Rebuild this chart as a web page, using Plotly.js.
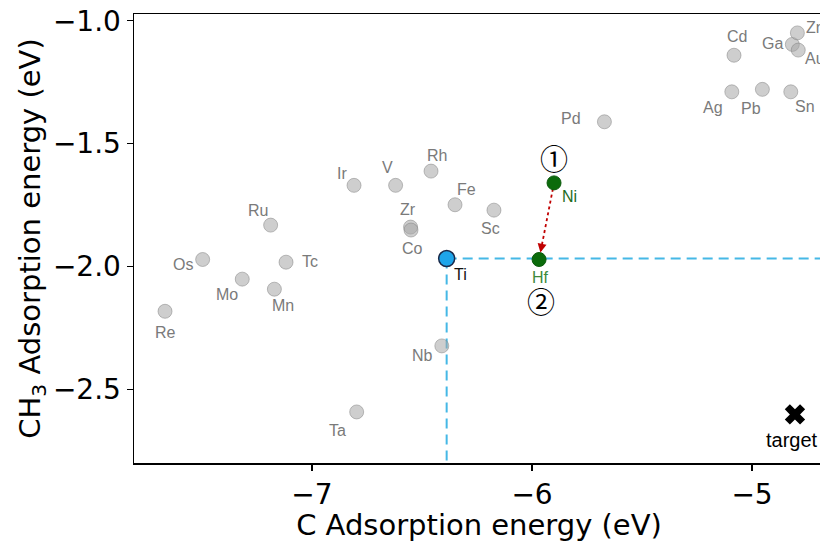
<!DOCTYPE html>
<html>
<head>
<meta charset="utf-8">
<script src="https://cdn.plot.ly/plotly-3.0.1.min.js"></script>
<style>
html,body{margin:0;padding:0;overflow:hidden;background:#fff;}
#chart{width:860px;height:542px;}
</style>
</head>
<body>
<div id="chart"></div>
<script>
// Gray (other) metals
const metals = ["Re","Os","Mo","Mn","Tc","Ru","Ir","V","Rh","Fe","Zr","Co","Sc","Nb","Ta","Pd","Cd","Ag","Pb","Sn","Ga","Zn","Au"];
const cAds  = [-7.668,-7.497,-7.317,-7.171,-7.118,-7.188,-6.809,-6.620,-6.459,-6.350,-6.552,-6.550,-6.173,-6.410,-6.797,-5.671,-5.082,-5.092,-4.953,-4.824,-4.817,-4.794,-4.790];
const ch3Ads= [-2.183,-1.972,-2.052,-2.093,-1.983,-1.832,-1.670,-1.670,-1.612,-1.749,-1.840,-1.852,-1.771,-2.324,-2.593,-1.411,-1.140,-1.289,-1.279,-1.289,-1.096,-1.049,-1.119];

// Highlighted
const startName = "Ni", startC = -5.900, startCH3 = -1.660;
const endName = "Hf", endC = -5.968, endCH3 = -1.972;
const refName = "Ti", refC = -6.388, refCH3 = -1.968;
const targetName = "target", targetC = -4.805, targetCH3 = -2.603;

const xRange = [-7.809, -4.673];
const yRange = [-2.801, -0.972];

// label offsets in pixels [dx, dy(up positive)]
const off = {
  Re:[0,-21], Os:[-20,-5], Mo:[-15,-15], Mn:[9,-16], Tc:[24,1], Ru:[-13,15], Ir:[-12,12],
  V:[-8,18], Rh:[6,16], Fe:[11,15], Zr:[-3,18], Co:[1,-18], Sc:[-3,-18], Nb:[-19,-10],
  Ta:[-19,-19], Pd:[-33,3], Cd:[3,19], Ag:[-19,-16], Pb:[-11,-19], Sn:[14,-15],
  Ga:[-20,1], Zn:[18,5], Au:[17,-8]
};

const lblFamily = "Liberation Sans, Arial, sans-serif";
const grayFont = {family:lblFamily, size:16, color:"#7a7a7a"};
const annotations = [];
metals.forEach((m,i)=>{
  annotations.push({x:cAds[i], y:ch3Ads[i], xref:'x', yref:'y', text:m, showarrow:false,
    xshift:off[m][0], yshift:off[m][1], font:grayFont});
});
annotations.push({x:startC,y:startCH3,text:startName,showarrow:false,xshift:15,yshift:-14,
  font:{family:lblFamily,size:16,color:"#1f6b1f"}});
annotations.push({x:endC,y:endCH3,text:endName,showarrow:false,xshift:1,yshift:-18,
  font:{family:lblFamily,size:16,color:"#3c8a3c"}});
annotations.push({x:refC,y:refCH3,text:refName,showarrow:false,xshift:14,yshift:-16,
  font:{family:lblFamily,size:16,color:"#111"}});
annotations.push({x:targetC,y:targetCH3,text:targetName,showarrow:false,xshift:-3,yshift:-26,
  font:{family:lblFamily,size:20,color:"#000"}});
// circled step numbers
annotations.push({x:startC,y:startCH3,text:"①",showarrow:false,yshift:25,
  font:{family:"Noto Sans CJK JP, DejaVu Sans",size:28,color:"#000"}});
annotations.push({x:endC,y:endCH3,text:"②",showarrow:false,yshift:-42,xshift:2,
  font:{family:"Noto Sans CJK JP, DejaVu Sans",size:28,color:"#000"}});
// arrow head toward Hf
annotations.push({x:endC,y:endCH3,xref:'x',yref:'y',ax:2.5,ay:-13,axref:'pixel',ayref:'pixel',
  showarrow:true,arrowhead:2,arrowsize:1.2,arrowwidth:1.5,arrowcolor:"#c00000",standoff:7,text:""});

const traces = [
  {x:[refC,refC], y:[refCH3,yRange[0]], mode:'lines', line:{color:'#45b8e6',width:2,dash:'10px,6px'}, hoverinfo:'skip'},
  {x:[refC,xRange[1]], y:[refCH3,refCH3], mode:'lines', line:{color:'#45b8e6',width:2,dash:'10px,6px'}, hoverinfo:'skip'},
  {x:[startC,endC], y:[startCH3,endCH3], mode:'lines', line:{color:'#c00000',width:1.8,dash:'dot'}, hoverinfo:'skip'},
  {x:cAds, y:ch3Ads, mode:'markers', text:metals,
    marker:{size:14,color:'rgba(165,165,165,0.55)',line:{color:'rgba(130,130,130,0.5)',width:1}}},
  {x:[startC,endC], y:[startCH3,endCH3], mode:'markers', text:[startName,endName],
    marker:{size:14,color:'#0b6b0b',line:{color:'#0b5a0b',width:1}}},
  {x:[refC], y:[refCH3], mode:'markers', text:[refName],
    marker:{size:16,color:'#1ea5ea',line:{color:'#1b2a4a',width:1.5}}},
  {x:[targetC], y:[targetCH3], mode:'markers', text:[targetName],
    marker:{size:18,symbol:'x',color:'#000',line:{width:0}}}
];

const tickFont = {family:"DejaVu Sans, sans-serif", size:28, color:"#000"};
const titleFont = {family:"DejaVu Sans, sans-serif", size:29, color:"#000"};
const layout = {
  width:860, height:542,
  margin:{l:134, r:36, t:14, b:79},
  paper_bgcolor:'#fff', plot_bgcolor:'#fff',
  showlegend:false,
  xaxis:{range:xRange, dtick:1, tick0:-7, showgrid:false, zeroline:false,
    showline:true, mirror:true, linecolor:'#000', linewidth:1.5,
    ticks:'outside', ticklen:6, tickwidth:1.2, tickcolor:'#000', tickfont:tickFont,
    title:{text:"C Adsorption energy (eV)", font:titleFont, standoff:2}},
  yaxis:{range:yRange, dtick:0.5, tick0:-1, tickformat:'.1f', showgrid:false, zeroline:false,
    showline:true, mirror:true, linecolor:'#000', linewidth:1.5,
    ticks:'outside', ticklen:6, tickwidth:1.2, tickcolor:'#000', tickfont:tickFont,
    title:{text:"CH<sub>3</sub> Adsorption energy (eV)", font:titleFont, standoff:4}},
  annotations:annotations
};
Plotly.newPlot('chart', traces, layout, {displayModeBar:false, staticPlot:true});
</script>
</body>
</html>
